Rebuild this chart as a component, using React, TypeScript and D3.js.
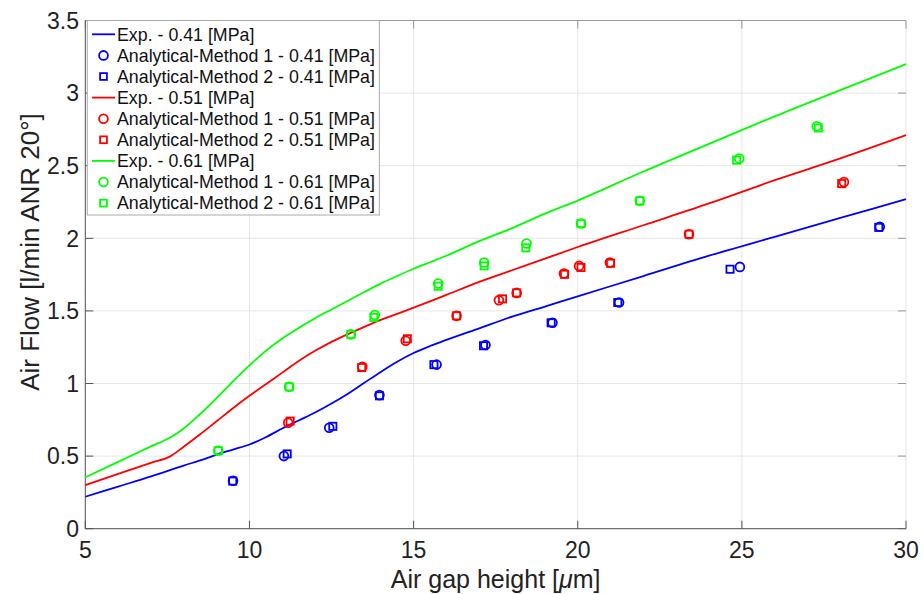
import React from "react";
import * as d3 from "d3";

// ---- data ----
const expX = [5, 6, 7, 7.6, 8, 8.5, 9, 9.5, 10, 10.5, 11, 11.5, 12, 12.5, 13, 13.5, 14, 14.5, 15, 15.5, 16, 17, 18, 19, 20, 22, 24, 26, 28, 30];
const exp041 = [0.22, 0.29, 0.36, 0.405, 0.435, 0.47, 0.51, 0.545, 0.58, 0.63, 0.69, 0.745, 0.8, 0.862, 0.93, 1.005, 1.08, 1.15, 1.21, 1.258, 1.3, 1.38, 1.46, 1.53, 1.6, 1.74, 1.88, 2.01, 2.14, 2.27];
const exp051 = [0.3, 0.377, 0.454, 0.5, 0.565, 0.65, 0.74, 0.83, 0.915, 0.995, 1.075, 1.155, 1.225, 1.287, 1.34, 1.39, 1.438, 1.48, 1.522, 1.565, 1.61, 1.7, 1.78, 1.86, 1.94, 2.09, 2.24, 2.4, 2.55, 2.71];
const exp061 = [0.354, 0.46, 0.567, 0.63, 0.69, 0.79, 0.9, 1.015, 1.125, 1.225, 1.31, 1.383, 1.45, 1.51, 1.57, 1.63, 1.688, 1.74, 1.79, 1.835, 1.88, 1.98, 2.07, 2.17, 2.26, 2.46, 2.65, 2.84, 3.02, 3.2];

const m1x041 = [9.5, 11.05, 12.43, 13.96, 15.7, 17.19, 19.23, 21.26, 24.94, 29.2];
const m1y041 = [0.33, 0.5, 0.695, 0.92, 1.13, 1.265, 1.418, 1.558, 1.803, 2.08];
const m2x041 = [9.49, 11.15, 12.54, 13.96, 15.62, 17.13, 19.19, 21.22, 24.64, 29.17];
const m2y041 = [0.328, 0.515, 0.705, 0.915, 1.13, 1.26, 1.418, 1.558, 1.787, 2.075];

const m1x051 = [11.18, 13.44, 14.76, 16.31, 17.6, 18.14, 19.58, 20.04, 20.98, 23.39, 28.11];
const m1y051 = [0.73, 1.115, 1.294, 1.466, 1.574, 1.624, 1.758, 1.81, 1.833, 2.028, 2.388];
const m2x051 = [11.24, 13.42, 14.81, 16.31, 17.71, 18.14, 19.6, 20.1, 21.0, 23.39, 28.04];
const m2y051 = [0.741, 1.11, 1.308, 1.466, 1.583, 1.624, 1.752, 1.799, 1.828, 2.028, 2.377];

const m1x061 = [9.05, 11.21, 13.09, 13.82, 15.75, 17.15, 18.44, 20.1, 21.89, 24.92, 27.28];
const m1y061 = [0.537, 0.977, 1.338, 1.471, 1.689, 1.833, 1.964, 2.102, 2.258, 2.549, 2.771];
const m2x061 = [9.05, 11.21, 13.09, 13.79, 15.75, 17.15, 18.42, 20.1, 21.89, 24.84, 27.33];
const m2y061 = [0.537, 0.977, 1.338, 1.455, 1.67, 1.81, 1.934, 2.102, 2.258, 2.538, 2.76];

const xTicks = [5, 10, 15, 20, 25, 30];
const yTicks = [0, 0.5, 1, 1.5, 2, 2.5, 3, 3.5];
const yTickLabels = ["0", "0.5", "1", "1.5", "2", "2.5", "3", "3.5"];

const legendLabels = [
  "Exp. - 0.41 [MPa]",
  "Analytical-Method 1 - 0.41 [MPa]",
  "Analytical-Method 2 - 0.41 [MPa]",
  "Exp. - 0.51 [MPa]",
  "Analytical-Method 1 - 0.51 [MPa]",
  "Analytical-Method 2 - 0.51 [MPa]",
  "Exp. - 0.61 [MPa]",
  "Analytical-Method 1 - 0.61 [MPa]",
  "Analytical-Method 2 - 0.61 [MPa]",
];

const BLUE = "#0000ff";
const RED = "#ff0000";
const GREEN = "#00ff00";

const FONT = "'Liberation Sans', Arial, Helvetica, sans-serif";

export default function App() {
  const W = 924;
  const H = 594;
  const left = 85.3, right = 906, top = 20.5, bottom = 528.7;

  const x = d3.scaleLinear().domain([5, 30]).range([left, right]);
  const y = d3.scaleLinear().domain([0, 3.5]).range([bottom, top]);

  const line = d3
    .line<[number, number]>()
    .x((d) => x(d[0]))
    .y((d) => y(d[1]))
    .curve(d3.curveMonotoneX);

  const series = [
    { color: BLUE, exp: exp041, m1x: m1x041, m1y: m1y041, m2x: m2x041, m2y: m2y041 },
    { color: RED, exp: exp051, m1x: m1x051, m1y: m1y051, m2x: m2x051, m2y: m2y051 },
    { color: GREEN, exp: exp061, m1x: m1x061, m1y: m1y061, m2x: m2x061, m2y: m2y061 },
  ];

  const R = 4.4;
  const S = 7.2;
  const SW = 1.8;
  const gridColor = "#e6e6e6";
  const axisColor = "#555";
  const tickLen = 8;

  const legX = 87.3, legY = top, legW = 292, legH = 194.5;
  const rowY0 = 34.3, rowDy = 21.1;

  return (
    <svg width={W} height={H} style={{ position: "absolute", left: 0, top: 0, background: "#fff" }} fontFamily={FONT}>
      <rect x={0} y={0} width={W} height={H} fill="#fff" />
      {/* grid */}
      {xTicks.map((t) => (
        <line key={"gx" + t} x1={x(t)} x2={x(t)} y1={top} y2={bottom} stroke={gridColor} strokeWidth={1} />
      ))}
      {yTicks.map((t) => (
        <line key={"gy" + t} x1={left} x2={right} y1={y(t)} y2={y(t)} stroke={gridColor} strokeWidth={1} />
      ))}
      {/* ticks */}
      {xTicks.map((t) => (
        <g key={"tx" + t}>
          <line x1={x(t)} x2={x(t)} y1={bottom} y2={bottom - tickLen} stroke={axisColor} strokeWidth={1} />
          <line x1={x(t)} x2={x(t)} y1={top} y2={top + tickLen} stroke="#999" strokeWidth={1} />
        </g>
      ))}
      {yTicks.map((t) => (
        <g key={"ty" + t}>
          <line x1={left} x2={left + tickLen} y1={y(t)} y2={y(t)} stroke={axisColor} strokeWidth={1} />
          <line x1={right} x2={right - tickLen} y1={y(t)} y2={y(t)} stroke="#999" strokeWidth={1} />
        </g>
      ))}
      {/* frame */}
      <line x1={left} x2={right} y1={top} y2={top} stroke="#999" strokeWidth={1} />
      <line x1={left} x2={left} y1={top} y2={bottom} stroke={axisColor} strokeWidth={1} />
      <line x1={left} x2={right} y1={bottom} y2={bottom} stroke={axisColor} strokeWidth={1} />

      {/* data */}
      {series.map((s, i) => (
        <g key={"s" + i}>
          <path
            d={line(expX.map((v, j) => [v, s.exp[j]] as [number, number])) || ""}
            fill="none"
            stroke={s.color}
            strokeWidth={1.8}
          />
          {s.m1x.map((v, j) => (
            <circle key={"c" + j} cx={x(v)} cy={y(s.m1y[j])} r={R} fill="none" stroke={s.color} strokeWidth={SW} />
          ))}
          {s.m2x.map((v, j) => (
            <rect
              key={"r" + j}
              x={x(v) - S / 2}
              y={y(s.m2y[j]) - S / 2}
              width={S}
              height={S}
              fill="none"
              stroke={s.color}
              strokeWidth={SW}
            />
          ))}
        </g>
      ))}

      {/* tick labels */}
      {xTicks.map((t) => (
        <text key={"lx" + t} x={x(t)} y={558} textAnchor="middle" fontSize={23} fill="#222">
          {t}
        </text>
      ))}
      {yTicks.map((t, i) => (
        <text key={"ly" + t} x={79} y={y(t) + 8.2} textAnchor="end" fontSize={23} fill="#222">
          {yTickLabels[i]}
        </text>
      ))}

      {/* axis labels */}
      <text x={(left + right) / 2} y={588} textAnchor="middle" fontSize={25} fill="#222">
        Air gap height [<tspan fontStyle="italic">μ</tspan>m]
      </text>
      <text transform={`translate(39,252) rotate(-90)`} textAnchor="middle" fontSize={26} fill="#222">
        Air Flow [l/min ANR 20°]
      </text>

      {/* legend */}
      <rect x={legX} y={legY} width={legW} height={legH} fill="#fff" stroke="#aaa" strokeWidth={1} />
      {legendLabels.map((lab, i) => {
        const cy = rowY0 + i * rowDy;
        const color = series[Math.floor(i / 3)].color;
        const kind = i % 3;
        return (
          <g key={"lg" + i}>
            {kind === 0 && <line x1={92} x2={115} y1={cy} y2={cy} stroke={color} strokeWidth={1.8} />}
            {kind === 1 && <circle cx={103.5} cy={cy} r={R} fill="none" stroke={color} strokeWidth={SW} />}
            {kind === 2 && (
              <rect x={103.5 - 3.4} y={cy - 3.4} width={6.8} height={6.8} fill="none" stroke={color} strokeWidth={SW} />
            )}
            <text x={117} y={cy + 6.3} fontSize={17.8} fill="#111">
              {lab}
            </text>
          </g>
        );
      })}
    </svg>
  );
}
